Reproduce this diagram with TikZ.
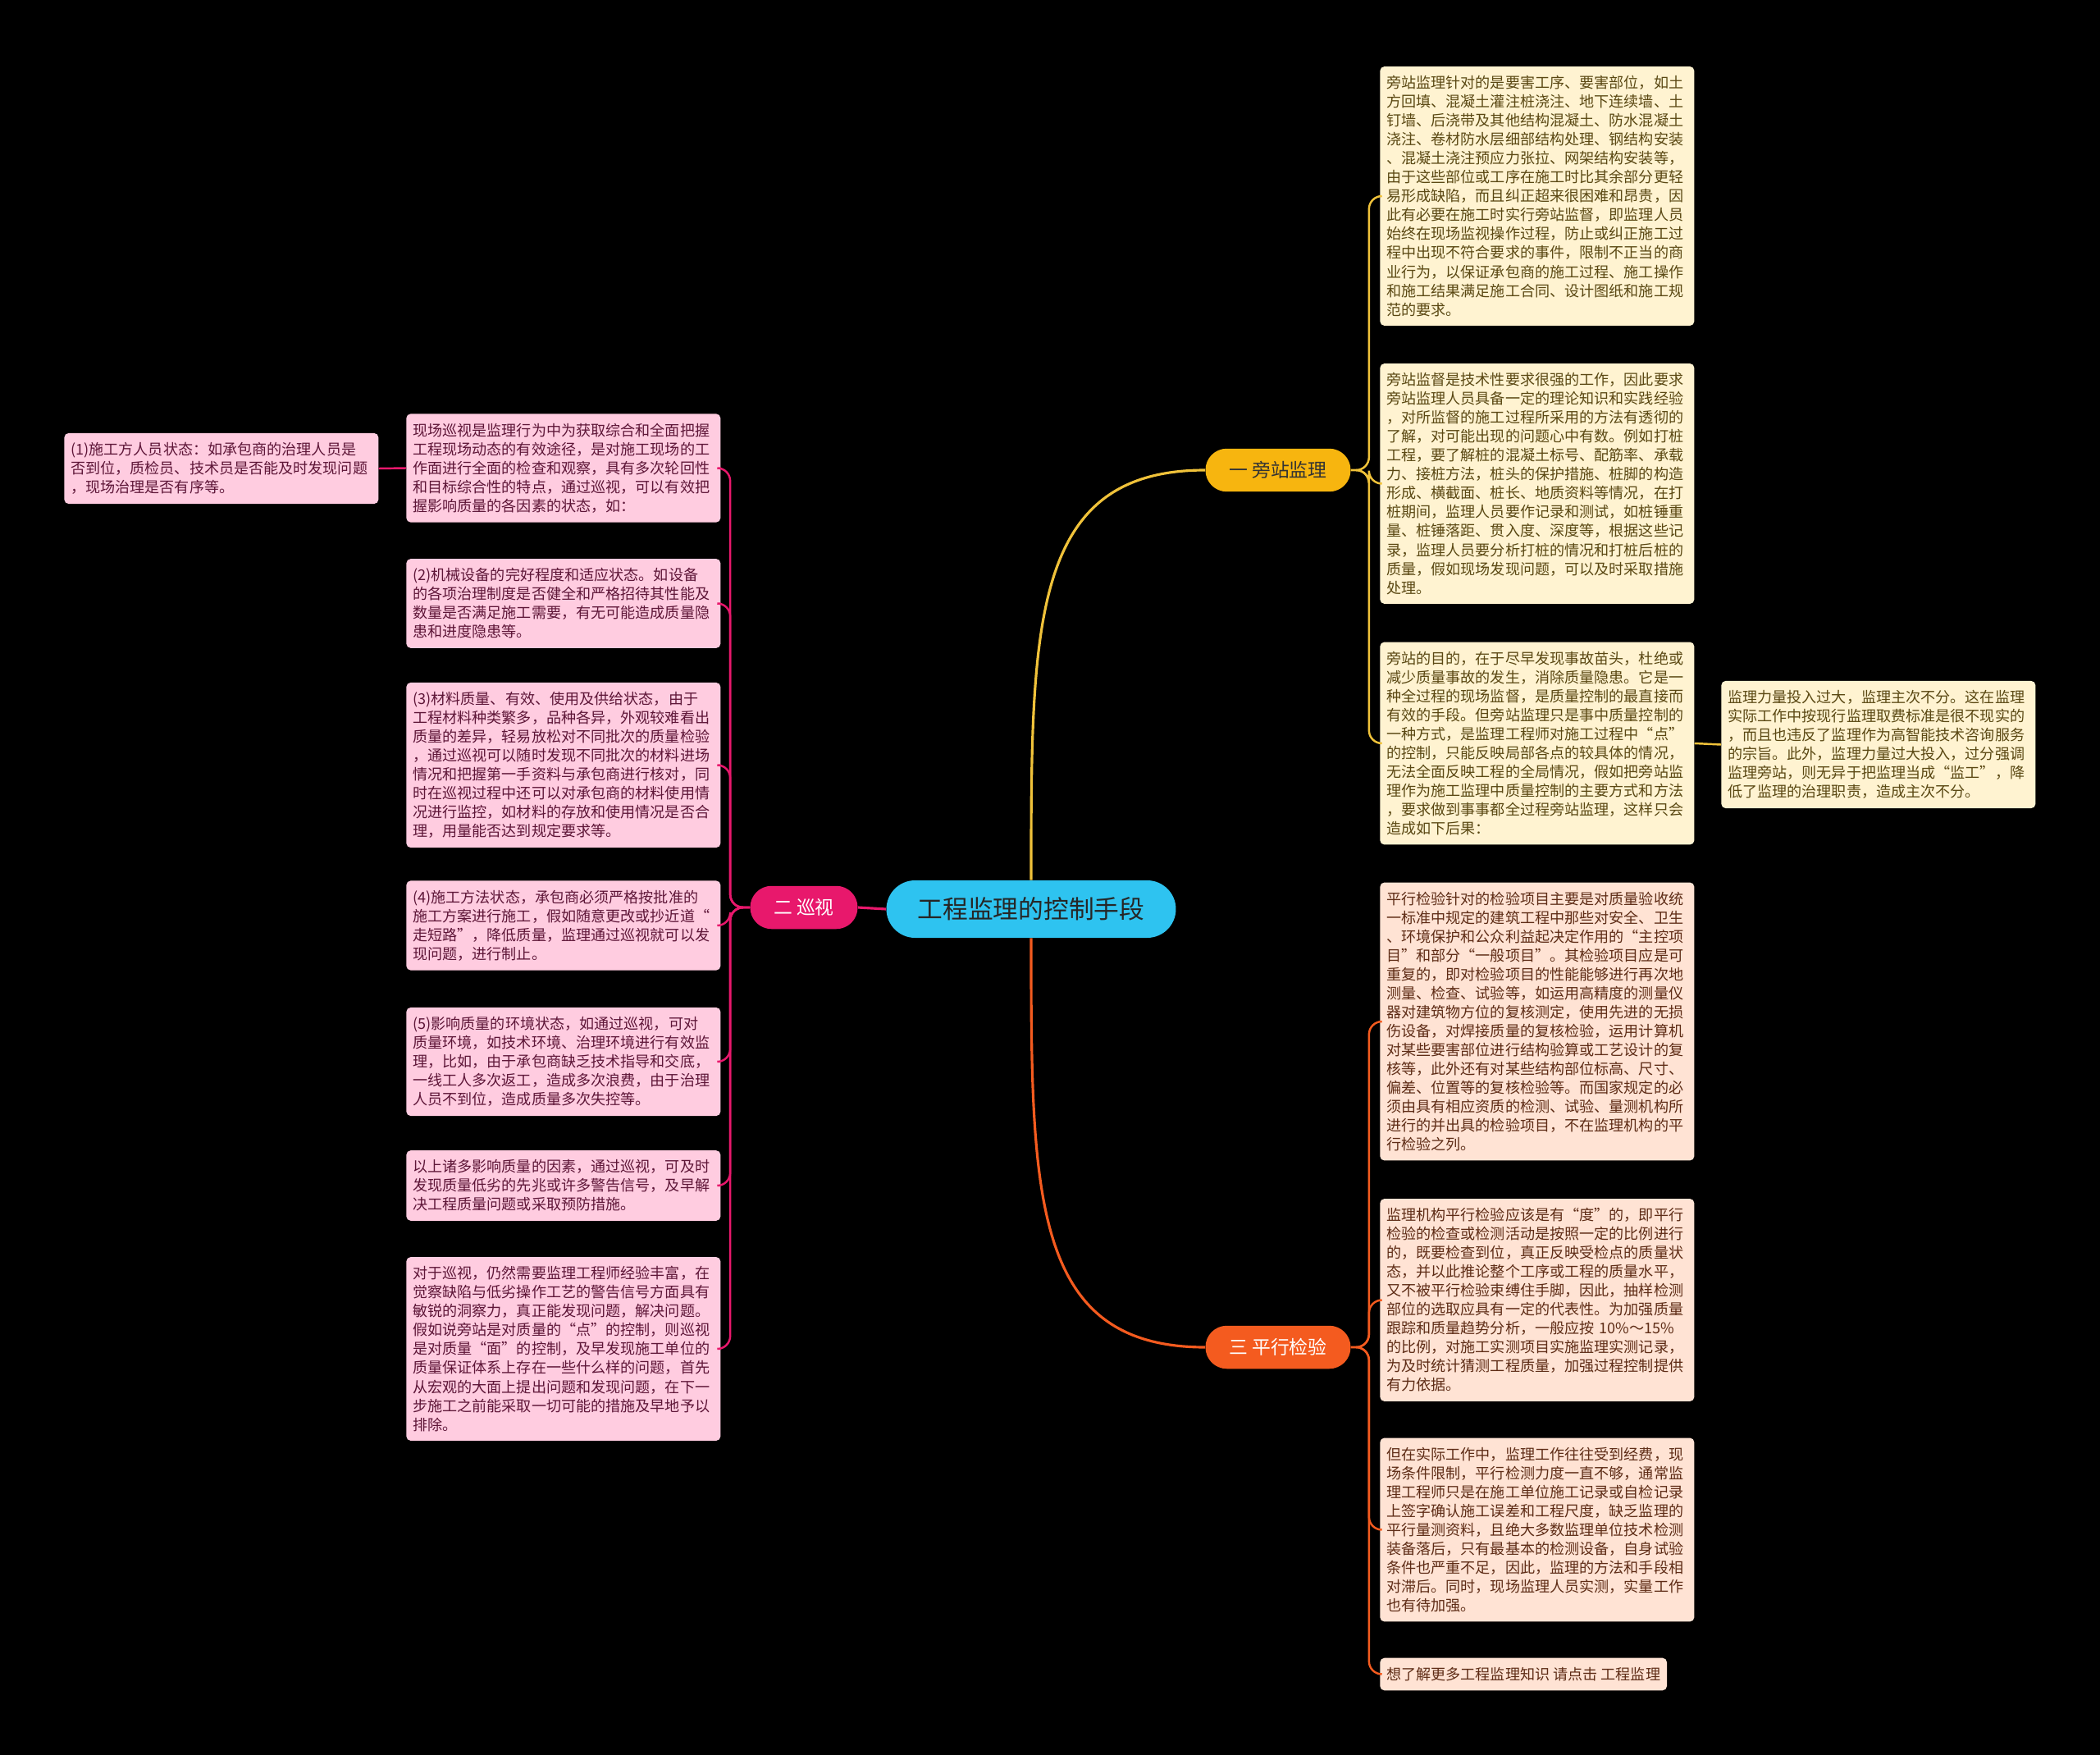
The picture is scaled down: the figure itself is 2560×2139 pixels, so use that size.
\documentclass[tikz,border=0pt]{standalone}
\usepackage{fontspec}
\setmainfont{Noto Sans CJK SC}
\usepackage{xcolor}
\usetikzlibrary{positioning}
\usetikzlibrary{calc}
\definecolor{rootfill}{HTML}{2EC3F0}
\definecolor{amber}{HTML}{F7B50F}
\definecolor{rosered}{HTML}{E8186C}
\definecolor{flame}{HTML}{F45B1F}
\definecolor{cream}{HTML}{FFF3D1}
\definecolor{pinkleaf}{HTML}{FFCCE0}
\definecolor{peach}{HTML}{FFE3D4}
\definecolor{creamtext}{HTML}{5A4813}
\definecolor{pinktext}{HTML}{5E1638}
\definecolor{peachtext}{HTML}{5E2C16}
\definecolor{goldline}{HTML}{F0C23A}
\tikzset{
  % The centre topic
  rootnode/.style={
    fill=rootfill, rounded corners=0.7cm, minimum width=7.06cm,
    minimum height=1.4cm, font=\fontsize{17.5}{20}\selectfont, text=black!85},
  % A main branch: fill colour as argument
  branch/.style={
    fill=#1, rounded corners=0.52cm, minimum height=1.05cm,
    font=\fontsize{13}{15}\selectfont},
  % A text leaf: fill colour as argument
  leaf/.style={
    fill=#1, rounded corners=3pt, align=left, inner xsep=4.5pt,
    inner ysep=6.5pt, font=\fontsize{10.3}{13.1}\selectfont, text width=209pt},
  % A one-line leaf
  tipline/.style={
    fill=#1, rounded corners=3pt, inner xsep=4.5pt, inner ysep=6.5pt,
    font=\fontsize{10.3}{13.1}\selectfont},
  % Connectors
  trunk/.style={line width=1.8pt},
  twig/.style={line width=1.4pt, rounded corners=9pt},
}

\begin{document}
\begin{tikzpicture}[x=0.02cm, y=-0.02cm]

  \fill[black] (0,0) rectangle (2560,2139);
  \useasboundingbox (0,0) rectangle (2560,2139);

  % centre and branches
  \node[rootnode] (root) at (1257,1108) {工程监理的控制手段};
  \node[branch=amber, minimum width=3.54cm, text=black!80] (pang) at (1558,573) {一 旁站监理};
  \node[branch=rosered, minimum width=2.62cm, text=white] (xun) at (980,1106) {二 巡视};
  \node[branch=flame, minimum width=3.54cm, text=white] (ping) at (1558,1642) {三 平行检验};

  % 一 travel on the right, top
  \node[leaf=cream, text=creamtext, anchor=west] (r1) at (1682,239) {%
    旁站监理针对的是要害工序、要害部位，如土\\
    方回填、混凝土灌注桩浇注、地下连续墙、土\\
    钉墙、后浇带及其他结构混凝土、防水混凝土\\
    浇注、卷材防水层细部结构处理、钢结构安装\\
    、混凝土浇注预应力张拉、网架结构安装等，\\
    由于这些部位或工序在施工时比其余部分更轻\\
    易形成缺陷，而且纠正超来很困难和昂贵，因\\
    此有必要在施工时实行旁站监督，即监理人员\\
    始终在现场监视操作过程，防止或纠正施工过\\
    程中出现不符合要求的事件，限制不正当的商\\
    业行为，以保证承包商的施工过程、施工操作\\
    和施工结果满足施工合同、设计图纸和施工规\\
    范的要求。};
  \node[leaf=cream, text=creamtext, anchor=west] (r2) at (1682,589.5) {%
    旁站监督是技术性要求很强的工作，因此要求\\
    旁站监理人员具备一定的理论知识和实践经验\\
    ，对所监督的施工过程所采用的方法有透彻的\\
    了解，对可能出现的问题心中有数。例如打桩\\
    工程，要了解桩的混凝土标号、配筋率、承载\\
    力、接桩方法，桩头的保护措施、桩脚的构造\\
    形成、横截面、桩长、地质资料等情况，在打\\
    桩期间，监理人员要作记录和测试，如桩锤重\\
    量、桩锤落距、贯入度、深度等，根据这些记\\
    录，监理人员要分析打桩的情况和打桩后桩的\\
    质量，假如现场发现问题，可以及时采取措施\\
    处理。};
  \node[leaf=cream, text=creamtext, anchor=west] (r3) at (1682,906) {%
    旁站的目的，在于尽早发现事故苗头，杜绝或\\
    减少质量事故的发生，消除质量隐患。它是一\\
    种全过程的现场监督，是质量控制的最直接而\\
    有效的手段。但旁站监理只是事中质量控制的\\
    一种方式，是监理工程师对施工过程中“点”\\
    的控制，只能反映局部各点的较具体的情况，\\
    无法全面反映工程的全局情况，假如把旁站监\\
    理作为施工监理中质量控制的主要方式和方法\\
    ，要求做到事事都全过程旁站监理，这样只会\\
    造成如下后果：};
  \node[leaf=cream, text=creamtext, anchor=west] (r4) at (2098,907.5) {%
    监理力量投入过大，监理主次不分。这在监理\\
    实际工作中按现行监理取费标准是很不现实的\\
    ，而且也违反了监理作为高智能技术咨询服务\\
    的宗旨。此外，监理力量过大投入，过分强调\\
    监理旁站，则无异于把监理当成“监工”，降\\
    低了监理的治理职责，造成主次不分。};

  % 三 on the right, bottom
  \node[leaf=peach, text=peachtext, anchor=west] (r5) at (1682,1245) {%
    平行检验针对的检验项目主要是对质量验收统\\
    一标准中规定的建筑工程中那些对安全、卫生\\
    、环境保护和公众利益起决定作用的“主控项\\
    目”和部分“一般项目”。其检验项目应是可\\
    重复的，即对检验项目的性能能够进行再次地\\
    测量、检查、试验等，如运用高精度的测量仪\\
    器对建筑物方位的复核测定，使用先进的无损\\
    伤设备，对焊接质量的复核检验，运用计算机\\
    对某些要害部位进行结构验算或工艺设计的复\\
    核等，此外还有对某些结构部位标高、尺寸、\\
    偏差、位置等的复核检验等。而国家规定的必\\
    须由具有相应资质的检测、试验、量测机构所\\
    进行的并出具的检验项目，不在监理机构的平\\
    行检验之列。};
  \node[leaf=peach, text=peachtext, anchor=west] (r6) at (1682,1584.5) {%
    监理机构平行检验应该是有“度”的，即平行\\
    检验的检查或检测活动是按照一定的比例进行\\
    的，既要检查到位，真正反映受检点的质量状\\
    态，并以此推论整个工序或工程的质量水平，\\
    又不被平行检验束缚住手脚，因此，抽样检测\\
    部位的选取应具有一定的代表性。为加强质量\\
    跟踪和质量趋势分析，一般应按 10\%～15\%\\
    的比例，对施工实测项目实施监理实测记录，\\
    为及时统计猜测工程质量，加强过程控制提供\\
    有力依据。};
  \node[leaf=peach, text=peachtext, anchor=west] (r7) at (1682,1864.5) {%
    但在实际工作中，监理工作往往受到经费，现\\
    场条件限制，平行检测力度一直不够，通常监\\
    理工程师只是在施工单位施工记录或自检记录\\
    上签字确认施工误差和工程尺度，缺乏监理的\\
    平行量测资料，且绝大多数监理单位技术检测\\
    装备落后，只有最基本的检测设备，自身试验\\
    条件也严重不足，因此，监理的方法和手段相\\
    对滞后。同时，现场监理人员实测，实量工作\\
    也有待加强。};
  \node[tipline=peach, text=peachtext, anchor=west] (r8) at (1682,2040.5)
    {想了解更多工程监理知识 请点击 工程监理};

  % 二 on the left
  \node[leaf=pinkleaf, text=pinktext, anchor=west] (l1) at (495,570.5) {%
    现场巡视是监理行为中为获取综合和全面把握\\
    工程现场动态的有效途径，是对施工现场的工\\
    作面进行全面的检查和观察，具有多次轮回性\\
    和目标综合性的特点，通过巡视，可以有效把\\
    握影响质量的各因素的状态，如：};
  \node[leaf=pinkleaf, text=pinktext, anchor=west] (l1a) at (78,571) {%
    (1)施工方人员状态：如承包商的治理人员是\\
    否到位，质检员、技术员是否能及时发现问题\\
    ，现场治理是否有序等。};
  \node[leaf=pinkleaf, text=pinktext, anchor=west] (l2) at (495,735.5) {%
    (2)机械设备的完好程度和适应状态。如设备\\
    的各项治理制度是否健全和严格招待其性能及\\
    数量是否满足施工需要，有无可能造成质量隐\\
    患和进度隐患等。};
  \node[leaf=pinkleaf, text=pinktext, anchor=west] (l3) at (495,932.5) {%
    (3)材料质量、有效、使用及供给状态，由于\\
    工程材料种类繁多，品种各异，外观较难看出\\
    质量的差异，轻易放松对不同批次的质量检验\\
    ，通过巡视可以随时发现不同批次的材料进场\\
    情况和把握第一手资料与承包商进行核对，同\\
    时在巡视过程中还可以对承包商的材料使用情\\
    况进行监控，如材料的存放和使用情况是否合\\
    理，用量能否达到规定要求等。};
  \node[leaf=pinkleaf, text=pinktext, anchor=west] (l4) at (495,1128) {%
    (4)施工方法状态，承包商必须严格按批准的\\
    施工方案进行施工，假如随意更改或抄近道“\\
    走短路”，降低质量，监理通过巡视就可以发\\
    现问题，进行制止。};
  \node[leaf=pinkleaf, text=pinktext, anchor=west] (l5) at (495,1294) {%
    (5)影响质量的环境状态，如通过巡视，可对\\
    质量环境，如技术环境、治理环境进行有效监\\
    理，比如，由于承包商缺乏技术指导和交底，\\
    一线工人多次返工，造成多次浪费，由于治理\\
    人员不到位，造成质量多次失控等。};
  \node[leaf=pinkleaf, text=pinktext, anchor=west] (l6) at (495,1445) {%
    以上诸多影响质量的因素，通过巡视，可及时\\
    发现质量低劣的先兆或许多警告信号，及早解\\
    决工程质量问题或采取预防措施。};
  \node[leaf=pinkleaf, text=pinktext, anchor=west] (l7) at (495,1644) {%
    对于巡视，仍然需要监理工程师经验丰富，在\\
    觉察缺陷与低劣操作工艺的警告信号方面具有\\
    敏锐的洞察力，真正能发现问题，解决问题。\\
    假如说旁站是对质量的“点”的控制，则巡视\\
    是对质量“面”的控制，及早发现施工单位的\\
    质量保证体系上存在一些什么样的问题，首先\\
    从宏观的大面上提出问题和发现问题，在下一\\
    步施工之前能采取一切可能的措施及早地予以\\
    排除。};

  % trunks
  \draw[trunk, goldline] (root.north) .. controls (1257,760) and (1257,573) .. (pang.west);
  \draw[trunk, flame] (root.south) .. controls (1257,1456) and (1257,1642) .. (ping.west);
  \draw[trunk, rosered] (root.west) -- (xun.east);

  % twigs
  \foreach \leafname in {r1,r2,r3}
    \draw[twig, goldline] (pang.east) -- ++(22,0) |- (\leafname.west);
  \draw[twig, goldline] (r3.east) -- (r4.west);
  \foreach \leafname in {r5,r6,r7,r8}
    \draw[twig, flame] (ping.east) -- ++(22,0) |- (\leafname.west);
  \foreach \leafname in {l1,l2,l3,l4,l5,l6,l7}
    \draw[twig, rosered] (xun.west) -- ++(-24,0) |- (\leafname.east);
  \draw[twig, rosered] (l1.west) -- (l1a.east);

\end{tikzpicture}
\end{document}
